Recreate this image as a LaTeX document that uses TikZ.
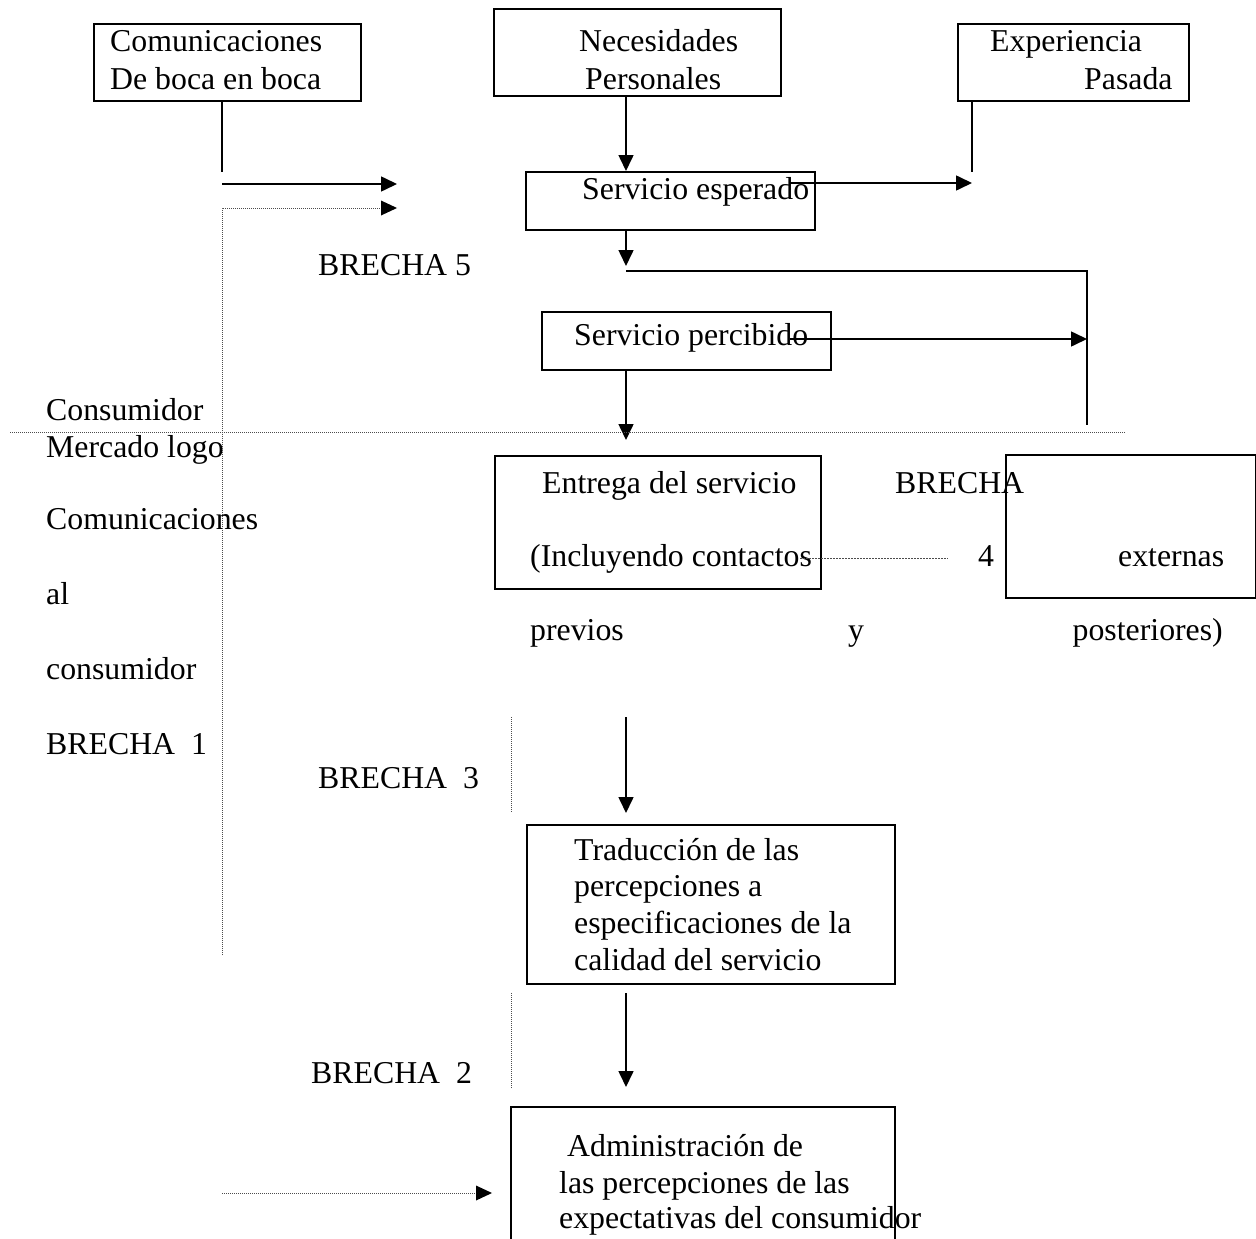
\documentclass[tikz,border=0pt]{standalone}
\usepackage{fontspec}
\setmainfont{Liberation Serif}
\usetikzlibrary{arrows.meta}
\begin{document}
\begin{tikzpicture}[x=1pt,y=-1pt,
  txt/.style={font=\fontsize{31.8}{38}\selectfont, inner sep=0pt, anchor=base west},
  txte/.style={txt, anchor=base east},
  box/.style={draw, line width=2pt, inner sep=0pt, anchor=north west},
  ln/.style={line width=1.6pt},
  thick ln/.style={line width=2.2pt},
  arr/.style={line width=1.6pt, -{Triangle[length=16pt,width=15pt]}},
  dotln/.style={line width=1pt, gray!60!black, dash pattern=on 1pt off 1pt},
  dashln/.style={line width=1pt, gray!60!black, dash pattern=on 2pt off 1pt},
  headtip/.style={fill=black}]
\useasboundingbox (0,0) rectangle (1256,1239);
\fill[white] (0,0) rectangle (1256,1239);

% reference columns
\coordinate (cx) at (626,0);
\coordinate (lx) at (222,0);
\coordinate (ex) at (972,0);

% boxes
\node[box, minimum width=267pt, minimum height=77pt] (bocab) at (93,23) {};
\node[box, minimum width=287pt, minimum height=87pt] (necb) at (493,8) {};
\node[box, minimum width=231pt, minimum height=77pt] (expb) at (957,23) {};
\node[box, minimum width=289pt, minimum height=58pt] (espb) at (525,171) {};
\node[box, minimum width=289pt, minimum height=58pt] (perb) at (541,311) {};
\node[box, minimum width=326pt, minimum height=133pt] (entb) at (494,455) {};
\node[box, minimum width=250pt, minimum height=143pt] (extb) at (1005,454) {};
\node[box, minimum width=368pt, minimum height=159pt] (trab) at (526,824) {};
\node[box, minimum width=384pt, minimum height=150pt] (admb) at (510,1106) {};

% texts
\node[txt] (t1) at (110,52) {Comunicaciones};
\node[txt] (t2) at (110,89) {De boca en boca};
\node[txt] (t3) at (579,52) {Necesidades};
\node[txt] (t4) at (585,89) {Personales};
\node[txt] (t5) at (990,52) {Experiencia};
\node[txt] (t6) at (1084,89) {Pasada};
\node[txt] (t7) at (582,199) {Servicio esperado};
\node[txt] (t8) at (318,275) {BRECHA 5};
\node[txt] (t9) at (574,345) {Servicio percibido};
\node[txt] (l1) at (46,420) {Consumidor};
\node[txt] (l2) at (46,457) {Mercado logo};
\node[txt] (l3) at (46,529) {Comunicaciones};
\node[txt] (l4) at (46,604) {al};
\node[txt] (l5) at (46,679) {consumidor};
\node[txt] (l6) at (46,754) {BRECHA\ \ 1};
\node[txt] (e1) at (542,493) {Entrega del servicio};
\node[txt] (e2) at (530,566) {(Incluyendo contactos};
\node[txt] (e3) at (530,640) {previos};
\node[txt] (e4) at (848,640) {y};
\node[txte] (e5) at (1223,640) {posteriores)};
\node[txt] (b4a) at (895,493) {BRECHA};
\node[txt] (b4b) at (978,566) {4};
\node[txt] (ext) at (1118,566) {externas};
\node[txt] (b3) at (318,788) {BRECHA\ \ 3};
\node[txt] (r1) at (574,860) {Traducción de las};
\node[txt] (r2) at (574,896) {percepciones a};
\node[txt] (r3) at (574,933) {especificaciones de la};
\node[txt] (r4) at (574,970) {calidad del servicio};
\node[txt] (b2) at (311,1083) {BRECHA\ \ 2};
\node[txt] (a1) at (567,1156) {Administración de};
\node[txt] (a2) at (559,1193) {las percepciones de las};
\node[txt] (a3) at (559,1228) {expectativas del consumidor};

% free ends
\coordinate (bocaend) at (222,172);
\coordinate (w1s) at (222,184);
\coordinate (w1e) at (397,184);
\coordinate (w2top) at (222,208);
\coordinate (w2e) at (397,208);
\coordinate (w2bot) at (222,955);
\coordinate (expend) at (972,172);
\coordinate (esps) at (790,183);
\coordinate (espe) at (972,183);
\coordinate (esptip) at (626,266);
\coordinate (g5a) at (626,271);
\coordinate (g5b) at (1087,271);
\coordinate (g5c) at (1087,425);
\coordinate (pers) at (790,339);
\coordinate (pere) at (1087,339);
\coordinate (pertip) at (626,440);
\coordinate (divl) at (10,432);
\coordinate (divr) at (1125,432);
\coordinate (g4a) at (800,558);
\coordinate (g4b) at (948,558);
\coordinate (g3top) at (511,717);
\coordinate (g3bot) at (511,812);
\coordinate (a3top) at (626,717);
\coordinate (a3tip) at (626,813);
\coordinate (g2top) at (511,993);
\coordinate (g2bot) at (511,1088);
\coordinate (a2top) at (626,993);
\coordinate (a2tip) at (626,1087);
\coordinate (d1s) at (222,1193);
\coordinate (d1e) at (492,1193);

% connectors
\draw[ln] (bocab.south -| lx) -- (bocaend);
\draw[arr] (w1s) -- (w1e);
\draw[dotln] (w2bot) -- (w2top) -- ([xshift=-14pt]w2e);
\fill[headtip] (w2e) -- ++(-16,-7.5) -- ++(0,15) -- cycle;
\draw[arr] (necb.south -| cx) -- (espb.north -| cx);
\draw[ln] (expb.south -| ex) -- (expend);
\draw[arr] (esps) -- (espe);
\draw[arr] (espb.south -| cx) -- (esptip);
\draw[thick ln] (g5a) -- (g5b) -- (g5c);
\draw[arr] (pers) -- (pere);
\draw[arr] (perb.south -| cx) -- (pertip);
\draw[dotln] (divl) -- (divr);
\draw[dashln] (g4a) -- (g4b);
\draw[dotln] (g3top) -- (g3bot);
\draw[arr] (a3top) -- (a3tip);
\draw[dotln] (g2top) -- (g2bot);
\draw[arr] (a2top) -- (a2tip);
\draw[dotln] (d1s) -- ([xshift=-14pt]d1e);
\fill[headtip] (d1e) -- ++(-16,-7.5) -- ++(0,15) -- cycle;
\end{tikzpicture}
\end{document}
